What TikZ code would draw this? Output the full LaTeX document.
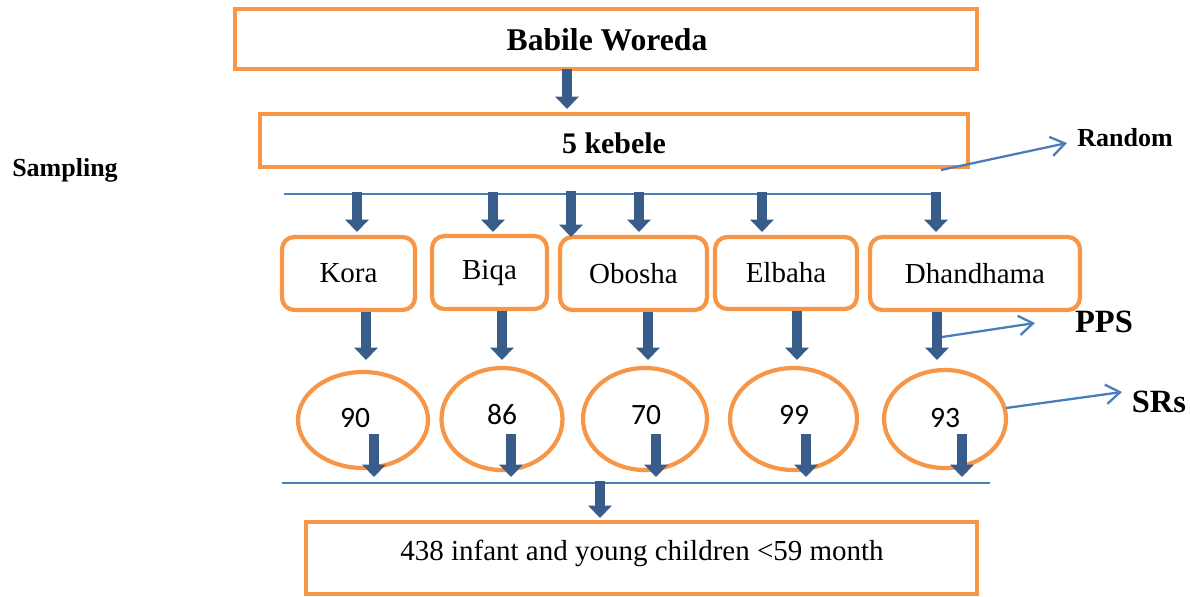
\documentclass[tikz,border=0pt]{standalone}
\usepackage{fontspec}
\setmainfont{Liberation Serif}
\newfontfamily\numfont{Carlito}
\usetikzlibrary{arrows.meta,shapes.geometric}
\definecolor{myorange}{HTML}{F79646}
\definecolor{arrowblue}{HTML}{385D8A}
\definecolor{lineblue}{HTML}{4A7EBB}
\begin{document}
\begin{tikzpicture}[x=0.02cm,y=-0.02cm,
  obox/.style={draw=myorange,line width=2.4pt,inner sep=0pt},
  rbox/.style={obox,rounded corners=7pt},
  ell/.style={draw=myorange,line width=2.4pt,ellipse,inner sep=0pt},
  fat/.style={draw=arrowblue,line width=5.7pt,-{Triangle[length=7pt,width=13pt]}},
  thinline/.style={draw=lineblue,line width=1.1pt},
  barb/.style={draw=lineblue,line width=1.3pt,-{Straight Barb[length=8pt,width=11pt]}},
  bigb/.style={font=\fontsize{17}{20}\selectfont\bfseries},
  reg/.style={font=\fontsize{16.5}{20}\selectfont},
  num/.style={font=\numfont\fontsize{16.8}{20}\selectfont},
  side/.style={font=\fontsize{14.8}{18}\selectfont\bfseries},
  sideL/.style={font=\fontsize{18.5}{22}\selectfont\bfseries}]
\useasboundingbox (0,0) rectangle (1190,596);

% main boxes
\node[obox,minimum width=14.84cm,minimum height=1.2cm] (bw) at (606,39) {};
\node[bigb,font=\fontsize{18}{21}\selectfont\bfseries] (bwt) at (607,40) {Babile Woreda};
\node[obox,minimum width=14.16cm,minimum height=1.06cm] (kb) at (614,140.5) {};
\node[bigb] (kbt) at (614,143) {5 kebele};

% kebele boxes
\node[rbox,minimum width=2.66cm,minimum height=1.46cm,reg] (kora) at (348.5,273.5) {Kora};
\node[rbox,minimum width=2.30cm,minimum height=1.46cm,reg] (biqa) at (489.5,272.5) {Biqa};
\node[rbox,minimum width=2.94cm,minimum height=1.46cm,reg] (obosha) at (633.5,273.5) {Obosha};
\node[rbox,minimum width=2.84cm,minimum height=1.44cm,reg] (elbaha) at (786,273) {Elbaha};
\node[rbox,minimum width=4.20cm,minimum height=1.46cm,reg] (dhan) at (975,273.5) {Dhandhama};

% ellipses
\node[ell,minimum width=2.60cm,minimum height=1.92cm] (e1) at (363,420) {};
\node[ell,minimum width=2.42cm,minimum height=2.04cm] (e2) at (502,419) {};
\node[ell,minimum width=2.48cm,minimum height=2.04cm] (e3) at (645,419) {};
\node[ell,minimum width=2.54cm,minimum height=2.04cm] (e4) at (793.5,419) {};
\node[ell,minimum width=2.44cm,minimum height=1.96cm] (e5) at (945,419) {};
\node[num] (n1) at (355,418) {90};
\node[num] (n2) at (502,415) {86};
\node[num] (n3) at (646,415) {70};
\node[num] (n4) at (794,415) {99};
\node[num] (n5) at (945,418) {93};

% bottom box
\node[obox,minimum width=13.42cm,minimum height=1.44cm] (res) at (641.5,558) {};
\node[reg] (rest) at (642,553) {438 infant and young children <59 month};

% side labels
\node[side] (samp) at (65,170) {Sampling};
\node[side] (rand) at (1125,138) {Random};
\node[sideL] (pps) at (1104,322) {PPS};
\node[sideL] (srs) at (1159,402) {SRs};

% horizontal lines
\coordinate (h1a) at (284,194);
\coordinate (h1b) at (937,194);
\coordinate (h2a) at (282,483);
\coordinate (h2b) at (990,483);
\draw[thinline] (h1a) -- (h1b);
\draw[thinline] (h2a) -- (h2b);

% fat arrows
\coordinate (a0s) at (567,69);
\coordinate (a0e) at (567,109);
\draw[fat] (a0s) -- (a0e);
\foreach \x/\n in {357/t1,493/t2,639/t4,762/t5,936/t6}{
  \coordinate (\n s) at (\x,192);
  \coordinate (\n e) at (\x,232);
  \draw[fat] (\n s) -- (\n e);
}
\coordinate (t3s) at (571,191);
\coordinate (t3e) at (571,237);
\draw[fat] (t3s) -- (t3e);

\coordinate (kora-a) at (366,360);
\coordinate (biqa-a) at (502,360);
\coordinate (obosha-a) at (648,360);
\coordinate (elbaha-a) at (797,360);
\coordinate (dhan-a) at (937,360);
\draw[fat] (kora.south -| kora-a) -- (kora-a);
\draw[fat] (biqa.south -| biqa-a) -- (biqa-a);
\draw[fat] (obosha.south -| obosha-a) -- (obosha-a);
\draw[fat] (elbaha.south -| elbaha-a) -- (elbaha-a);
\draw[fat] (dhan.south -| dhan-a) -- (dhan-a);

\foreach \x/\n in {374/b1,511/b2,656/b3,806/b4,962/b5}{
  \coordinate (\n s) at (\x,434);
  \coordinate (\n e) at (\x,477);
  \draw[fat] (\n s) -- (\n e);
}
\coordinate (fs) at (600,481);
\coordinate (fe) at (600,518);
\draw[fat] (fs) -- (fe);

% thin barbed arrows
\coordinate (r0) at (941,170);
\coordinate (r1) at (1067,143);
\draw[barb] (r0) -- (r1);
\coordinate (p0) at (942,337);
\coordinate (p1) at (1035,323);
\draw[barb] (p0) -- (p1);
\coordinate (s0) at (1006,408);
\coordinate (s1) at (1122,392);
\draw[barb] (s0) -- (s1);
\end{tikzpicture}
\end{document}
